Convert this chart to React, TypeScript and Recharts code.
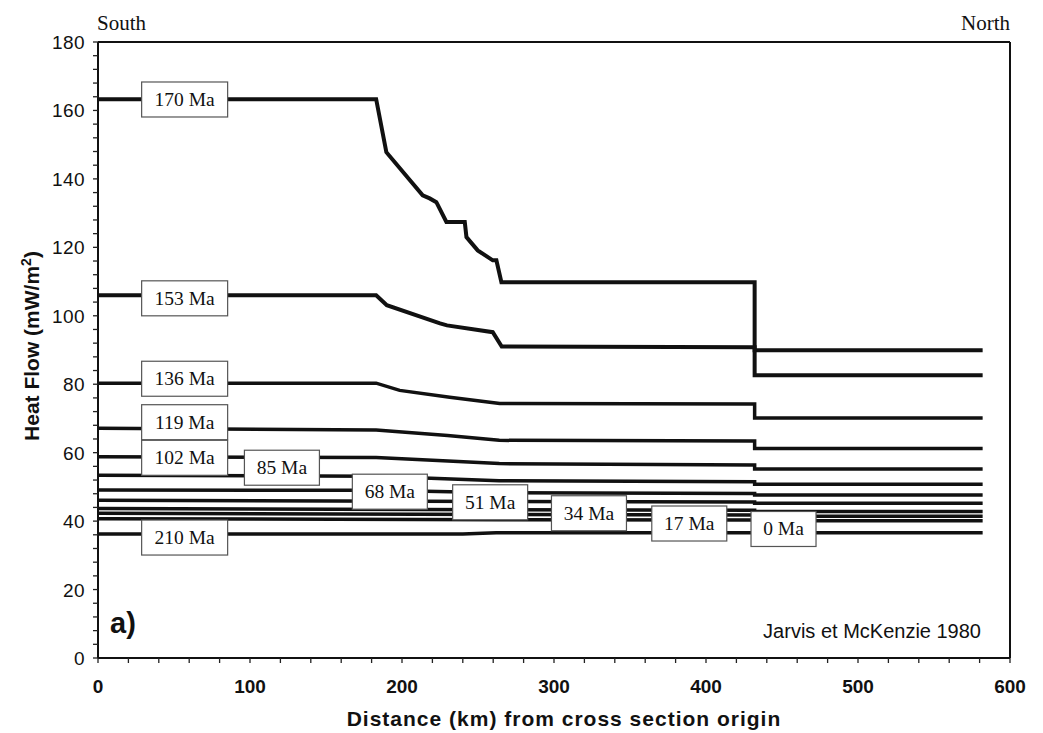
import { ComposedChart, Line, ReferenceLine, Scatter, XAxis, YAxis } from "recharts";

type Pt = [number, number];

// heat flow profiles, [km, mW/m2]
const ma170: Pt[] = [[0, 163.3], [183, 163.3], [189.7, 147.8], [213.6, 135.2], [218.2, 134.3], [222.6, 133.2], [229.2, 127.4], [241.3, 127.4], [242.4, 123], [249.8, 119.1], [259.7, 116.2], [262.1, 116.2], [265.4, 109.8], [432, 109.8], [432, 89.9], [582, 89.9]];
const ma153: Pt[] = [[0, 106], [183, 106], [190, 103.1], [225, 97.8], [229.6, 97.2], [259.7, 95.2], [265.6, 91], [432, 90.8], [432, 82.6], [582, 82.6]];
const ma136: Pt[] = [[0, 80.3], [183, 80.3], [198.5, 78.2], [231.4, 76.2], [264.3, 74.4], [432, 74.2], [432, 70.1], [582, 70.1]];
const ma119: Pt[] = [[0, 67.1], [183, 66.6], [230, 65], [264, 63.6], [432, 63.4], [432, 61.2], [582, 61.2]];
const ma102: Pt[] = [[0, 58.8], [183, 58.6], [264, 56.8], [432, 56.4], [432, 55.2], [582, 55.2]];
const ma85: Pt[] = [[0, 53.4], [183, 53.1], [264, 51.8], [432, 51.5], [432, 50.8], [582, 50.8]];
const ma68: Pt[] = [[0, 49.1], [183, 49], [264, 48.3], [432, 48.1], [432, 47.6], [582, 47.6]];
const ma51: Pt[] = [[0, 46.1], [264, 45.7], [432, 45.6], [432, 45.2], [582, 45.2]];
const ma34: Pt[] = [[0, 43.7], [264, 43.3], [432, 43.2], [432, 42.8], [582, 42.8]];
const ma17: Pt[] = [[0, 42.3], [264, 41.9], [432, 41.8], [432, 41.4], [582, 41.4]];
const ma0: Pt[] = [[0, 40.7], [264, 40.4], [432, 40.3], [432, 40.1], [582, 40.1]];
const ma210: Pt[] = [[0, 36.2], [240, 36.2], [262, 36.6], [582, 36.6]];

const profiles: Pt[][] = [ma170, ma153, ma136, ma119, ma102, ma85, ma68, ma51, ma34, ma17, ma0, ma210];

// boxed age labels
const labelNames = ["170 Ma", "153 Ma", "136 Ma", "119 Ma", "102 Ma", "85 Ma", "68 Ma", "51 Ma", "34 Ma", "17 Ma", "0 Ma", "210 Ma"];
const labelKm = [57, 57, 57, 57, 57, 121, 192, 258, 323, 389, 451, 57];
const labelHf = [163.2, 105.1, 81.6, 68.9, 58.5, 55.6, 48.6, 45.5, 42.3, 39.3, 37.7, 35.2];

const xTicks = Array.from({ length: 31 }, (_, i) => i * 20);
const yTicks = Array.from({ length: 46 }, (_, i) => i * 4);

const SANS = "'Liberation Sans', Arial, sans-serif";
const SERIF = "'Liberation Serif', 'Times New Roman', serif";

const W = 1035;
const H = 725;

function YTick(props: any) {
  const { x, y, payload } = props;
  const v = payload.value;
  return (
    <g>
      <line x1={x - 5} x2={x} y1={y} y2={y} stroke="#222" strokeWidth={1.3} />
      {v % 20 === 0 && (
        <text x={x - 13} y={y + 7} textAnchor="end" fontFamily={SANS} fontSize={19} letterSpacing={0.4} fill="#111">
          {v}
        </text>
      )}
    </g>
  );
}

function XTick(props: any) {
  const { x, y, payload } = props;
  const v = payload.value;
  return (
    <g>
      <line x1={x} x2={x} y1={y} y2={y + 5} stroke="#222" strokeWidth={1.3} />
      {v % 100 === 0 && (
        <text x={x} y={y + 35} textAnchor="middle" fontFamily={SANS} fontWeight="bold" fontSize={19} fill="#111">
          {v}
        </text>
      )}
    </g>
  );
}

function AgeBox(props: any) {
  const { cx, cy, payload } = props;
  const n = payload.name.length;
  const w = n >= 6 ? 86 : n === 5 ? 75 : 65;
  const h = 35;
  return (
    <g>
      <rect x={cx - w / 2} y={cy - h / 2} width={w} height={h} fill="#fff" stroke="#555" strokeWidth={1.2} />
      <text x={cx} y={cy + 6.5} textAnchor="middle" fontFamily={SERIF} fontSize={19.5} fill="#111">
        {payload.name}
      </text>
    </g>
  );
}

export default function App() {
  const labels = labelNames.map((name, i) => ({ name, x: labelKm[i], y: labelHf[i] }));
  return (
    <div style={{ position: "relative", width: W, height: H, background: "#fff" }}>
      <ComposedChart width={W} height={H} margin={{ top: 34, right: 33, left: 0, bottom: 30 }}>
        <XAxis
          type="number"
          dataKey="x"
          domain={[0, 600]}
          ticks={xTicks}
          interval={0}
          tickSize={0}
          tickMargin={0}
          tick={<XTick />}
          height={45}
          axisLine={{ stroke: "#111", strokeWidth: 2 }}
          allowDataOverflow
        />
        <YAxis
          type="number"
          domain={[0, 180]}
          ticks={yTicks}
          interval={0}
          tickSize={0}
          tickMargin={0}
          tick={<YTick />}
          width={90}
          axisLine={{ stroke: "#111", strokeWidth: 2 }}
          allowDataOverflow
        />
        <ReferenceLine y={180} stroke="#111" strokeWidth={2} />
        <ReferenceLine x={600} stroke="#111" strokeWidth={2} />
        {profiles.map((pts, i) => (
          <Line
            key={i}
            data={pts.map(([x, y]) => ({ x, y }))}
            dataKey="y"
            type="linear"
            stroke="#111"
            strokeWidth={i < 2 ? 4 : 3.5}
            dot={false}
            activeDot={false}
            isAnimationActive={false}
          />
        ))}
        <Scatter data={labels} dataKey="y" shape={<AgeBox />} isAnimationActive={false} />
      </ComposedChart>
      <svg width={W} height={H} style={{ position: "absolute", left: 0, top: 0, pointerEvents: "none" }}>
        <text x={89} y={22} fontFamily={SERIF} fontSize={21} fill="#111">South</text>
        <text x={1002} y={22} textAnchor="end" fontFamily={SERIF} fontSize={21} fill="#111">North</text>
        <text x={102} y={625} fontFamily={SANS} fontWeight="bold" fontSize={29} fill="#111">a)</text>
        <text x={973} y={630} textAnchor="end" fontFamily={SANS} fontSize={20} fill="#111">Jarvis et McKenzie 1980</text>
        <text x={556} y={718} textAnchor="middle" fontFamily={SANS} fontWeight="bold" fontSize={21} letterSpacing={1} fill="#111">
          Distance (km) from cross section origin
        </text>
        <text
          transform="translate(31,338) rotate(-90)"
          textAnchor="middle"
          fontFamily={SANS}
          fontWeight="bold"
          fontSize={21}
          fill="#111"
        >
          Heat Flow (mW/m<tspan dy={-8} fontSize={14}>2</tspan><tspan dy={8}>)</tspan>
        </text>
      </svg>
    </div>
  );
}
